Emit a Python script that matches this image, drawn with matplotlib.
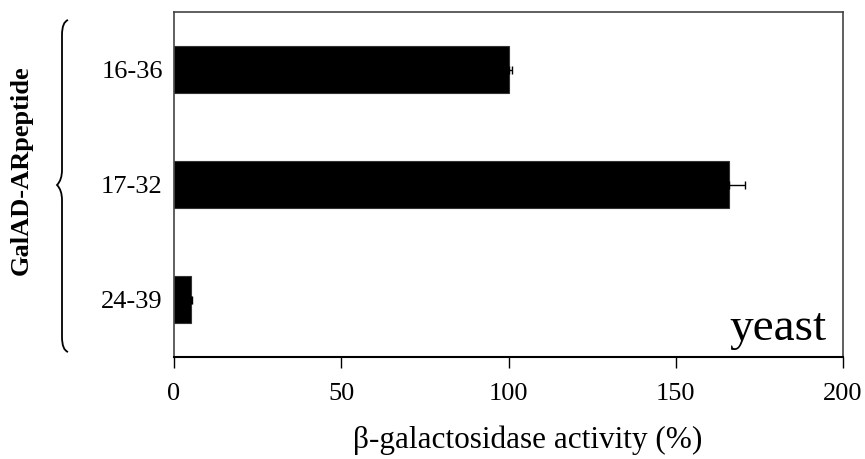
import matplotlib
matplotlib.use('Agg')
from matplotlib import pyplot as plt
from matplotlib.path import Path
from matplotlib.patches import PathPatch

# beta-galactosidase activity of the GalAD-AR peptide fusions (% of 16-36)
peptides = ['16-36', '17-32', '24-39']
activity = [100, 166, 5]
activity_err = [1, 4.8, 0.5]

plt.rcParams['font.family'] = ['Liberation Serif', 'DejaVu Serif']

fig = plt.figure(figsize=(8.65, 4.59), dpi=100)
ax = fig.add_axes([174/865, 1-357/459, 669/865, 345/459])

ypos = list(range(len(peptides)))
ax.barh(ypos, activity, height=0.41, color='black', edgecolor='#333333', linewidth=0.8,
        xerr=[[0]*len(activity_err), activity_err], error_kw=dict(ecolor='black', elinewidth=1, capsize=3, capthick=1))

ax.set_ylim(2.5, -0.5)
ax.set_xlim(0, 200)
ax.set_yticks(ypos)
ax.set_yticklabels(peptides, fontsize=19)
ax.set_xticks([0, 50, 100, 150, 200])
ax.tick_params(axis='y', length=0, pad=8)
ax.tick_params(axis='x', direction='out', length=8, width=1, labelsize=19, pad=11)

for side in ['top', 'right', 'left']:
    ax.spines[side].set_color('#444444')
    ax.spines[side].set_linewidth(1.2)
ax.spines['bottom'].set_color('black')
ax.spines['bottom'].set_linewidth(1.5)

ax.text(0.9746, 0.049, 'yeast', transform=ax.transAxes, ha='right', va='baseline', fontsize=34)

fig.text(528/865, 1-440/459, 'β-galactosidase activity (%)', ha='center', va='center', fontsize=22.5)
fig.text(21/865, 1-170/459, 'GalAD-ARpeptide', rotation=90, ha='center', va='center',
         fontsize=19, fontweight='bold')

# curly brace spanning the three peptides, drawn in pixel coordinates
ov = fig.add_axes([0, 0, 1, 1], facecolor='none')
ov.set_xlim(0, 865)
ov.set_ylim(459, 0)
ov.axis('off')
verts = [(68, 20), (62, 22), (62, 35), (62, 35),
         (62, 170), (62, 170), (62, 180), (57, 185),
         (62, 190), (62, 200), (62, 200),
         (62, 337), (62, 337), (62, 350), (68, 352)]
codes = [Path.MOVETO, Path.CURVE3, Path.CURVE3, Path.LINETO,
         Path.LINETO, Path.LINETO, Path.CURVE3, Path.CURVE3,
         Path.CURVE3, Path.CURVE3, Path.LINETO,
         Path.LINETO, Path.LINETO, Path.CURVE3, Path.CURVE3]
ov.add_patch(PathPatch(Path(verts, codes), facecolor='none', edgecolor='black', linewidth=1.3))

fig.savefig('out.png', dpi=100)
